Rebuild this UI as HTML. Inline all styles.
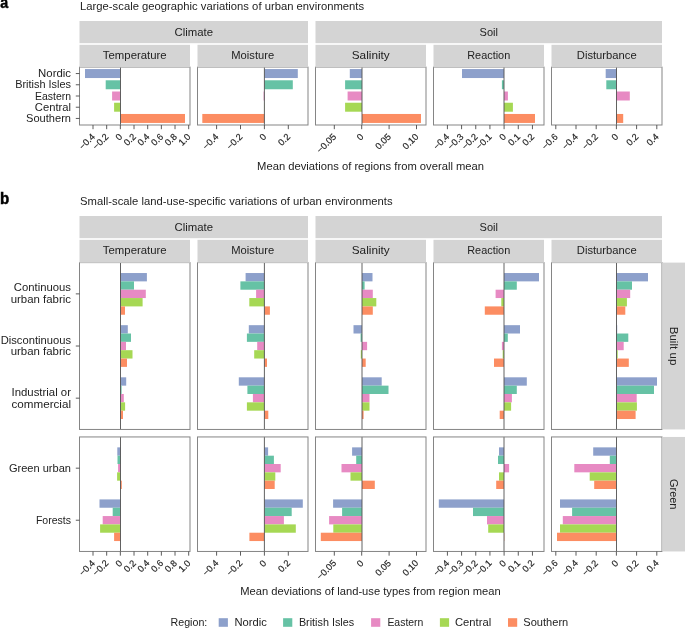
<!DOCTYPE html>
<html><head><meta charset="utf-8"><style>
html,body{margin:0;padding:0;background:#fff;width:685px;height:628px;overflow:hidden;position:relative}
</style></head><body>
<svg width="685" height="628" viewBox="0 0 685 628" style="position:absolute;left:0;top:0;font-family:'Liberation Sans', sans-serif;will-change:transform">
<rect x="0" y="0" width="685" height="628" fill="#ffffff"/>
<text x="0.3" y="7.8" font-size="17" text-anchor="start" fill="#000" font-weight="bold" textLength="7.9" lengthAdjust="spacingAndGlyphs" stroke="#000" stroke-width="0.5">a</text>
<text x="-0.1" y="203.5" font-size="16.5" text-anchor="start" fill="#000" font-weight="bold" textLength="9.2" lengthAdjust="spacingAndGlyphs" stroke="#000" stroke-width="0.5">b</text>
<rect x="79.50" y="67.10" width="110.50" height="57.90" fill="#ffffff"/>
<rect x="85.00" y="69.06" width="35.50" height="8.98" fill="#8DA0CB"/>
<rect x="105.70" y="80.28" width="14.80" height="8.98" fill="#66C2A5"/>
<rect x="112.10" y="91.51" width="8.40" height="8.98" fill="#E78AC3"/>
<rect x="114.10" y="102.73" width="6.40" height="8.98" fill="#A6D854"/>
<rect x="120.50" y="113.96" width="64.50" height="8.98" fill="#FC8D62"/>
<line x1="120.50" y1="67.10" x2="120.50" y2="125.00" stroke="#505050" stroke-width="0.9"/>
<rect x="79.50" y="67.10" width="110.50" height="57.90" fill="none" stroke="#858585" stroke-width="1.0"/>
<rect x="197.50" y="67.10" width="110.50" height="57.90" fill="#ffffff"/>
<rect x="264.40" y="69.06" width="33.40" height="8.98" fill="#8DA0CB"/>
<rect x="264.40" y="80.28" width="28.40" height="8.98" fill="#66C2A5"/>
<rect x="263.60" y="91.51" width="0.80" height="8.98" fill="#E78AC3"/>
<rect x="264.20" y="102.73" width="0.20" height="8.98" fill="#A6D854"/>
<rect x="202.30" y="113.96" width="62.10" height="8.98" fill="#FC8D62"/>
<line x1="264.40" y1="67.10" x2="264.40" y2="125.00" stroke="#505050" stroke-width="0.9"/>
<rect x="197.50" y="67.10" width="110.50" height="57.90" fill="none" stroke="#858585" stroke-width="1.0"/>
<rect x="315.50" y="67.10" width="110.50" height="57.90" fill="#ffffff"/>
<rect x="349.80" y="69.06" width="12.20" height="8.98" fill="#8DA0CB"/>
<rect x="345.10" y="80.28" width="16.90" height="8.98" fill="#66C2A5"/>
<rect x="347.60" y="91.51" width="14.40" height="8.98" fill="#E78AC3"/>
<rect x="345.10" y="102.73" width="16.90" height="8.98" fill="#A6D854"/>
<rect x="362.00" y="113.96" width="59.00" height="8.98" fill="#FC8D62"/>
<line x1="362.00" y1="67.10" x2="362.00" y2="125.00" stroke="#505050" stroke-width="0.9"/>
<rect x="315.50" y="67.10" width="110.50" height="57.90" fill="none" stroke="#858585" stroke-width="1.0"/>
<rect x="433.50" y="67.10" width="110.50" height="57.90" fill="#ffffff"/>
<rect x="462.00" y="69.06" width="42.00" height="8.98" fill="#8DA0CB"/>
<rect x="501.90" y="80.28" width="2.10" height="8.98" fill="#66C2A5"/>
<rect x="504.00" y="91.51" width="3.90" height="8.98" fill="#E78AC3"/>
<rect x="504.00" y="102.73" width="8.90" height="8.98" fill="#A6D854"/>
<rect x="504.00" y="113.96" width="31.00" height="8.98" fill="#FC8D62"/>
<line x1="504.00" y1="67.10" x2="504.00" y2="125.00" stroke="#505050" stroke-width="0.9"/>
<rect x="433.50" y="67.10" width="110.50" height="57.90" fill="none" stroke="#858585" stroke-width="1.0"/>
<rect x="551.50" y="67.10" width="110.50" height="57.90" fill="#ffffff"/>
<rect x="605.70" y="69.06" width="10.80" height="8.98" fill="#8DA0CB"/>
<rect x="606.30" y="80.28" width="10.20" height="8.98" fill="#66C2A5"/>
<rect x="616.50" y="91.51" width="13.30" height="8.98" fill="#E78AC3"/>
<rect x="616.30" y="102.73" width="0.20" height="8.98" fill="#A6D854"/>
<rect x="616.50" y="113.96" width="6.70" height="8.98" fill="#FC8D62"/>
<line x1="616.50" y1="67.10" x2="616.50" y2="125.00" stroke="#505050" stroke-width="0.9"/>
<rect x="551.50" y="67.10" width="110.50" height="57.90" fill="none" stroke="#858585" stroke-width="1.0"/>
<text x="80.1" y="9.5" font-size="10.8" text-anchor="start" fill="#222222" font-weight="normal" textLength="284" lengthAdjust="spacingAndGlyphs">Large-scale geographic variations of urban environments</text>
<rect x="79.50" y="21.00" width="228.50" height="22.20" fill="#D4D4D4"/>
<rect x="315.50" y="21.00" width="346.50" height="22.20" fill="#D4D4D4"/>
<text x="193.75" y="35.8" font-size="10.8" text-anchor="middle" fill="#222222" font-weight="normal" textLength="38.5" lengthAdjust="spacingAndGlyphs">Climate</text>
<text x="488.75" y="35.8" font-size="10.8" text-anchor="middle" fill="#222222" font-weight="normal" textLength="18.4" lengthAdjust="spacingAndGlyphs">Soil</text>
<rect x="79.50" y="44.80" width="110.50" height="22.50" fill="#D4D4D4"/>
<text x="134.75" y="58.6" font-size="10.8" text-anchor="middle" fill="#222222" font-weight="normal" textLength="63.8" lengthAdjust="spacingAndGlyphs">Temperature</text>
<rect x="197.50" y="44.80" width="110.50" height="22.50" fill="#D4D4D4"/>
<text x="252.75" y="58.6" font-size="10.8" text-anchor="middle" fill="#222222" font-weight="normal" textLength="42.9" lengthAdjust="spacingAndGlyphs">Moisture</text>
<rect x="315.50" y="44.80" width="110.50" height="22.50" fill="#D4D4D4"/>
<text x="370.75" y="58.6" font-size="10.8" text-anchor="middle" fill="#222222" font-weight="normal" textLength="38.0" lengthAdjust="spacingAndGlyphs">Salinity</text>
<rect x="433.50" y="44.80" width="110.50" height="22.50" fill="#D4D4D4"/>
<text x="488.75" y="58.6" font-size="10.8" text-anchor="middle" fill="#222222" font-weight="normal" textLength="43.0" lengthAdjust="spacingAndGlyphs">Reaction</text>
<rect x="551.50" y="44.80" width="110.50" height="22.50" fill="#D4D4D4"/>
<text x="606.75" y="58.6" font-size="10.8" text-anchor="middle" fill="#222222" font-weight="normal" textLength="59.9" lengthAdjust="spacingAndGlyphs">Disturbance</text>
<line x1="75.80" y1="73.55" x2="79.60" y2="73.55" stroke="#4A4A4A" stroke-width="0.9"/>
<text x="71" y="77.25" font-size="10.8" text-anchor="end" fill="#222222" font-weight="normal" textLength="32.9" lengthAdjust="spacingAndGlyphs">Nordic</text>
<line x1="75.80" y1="84.77" x2="79.60" y2="84.77" stroke="#4A4A4A" stroke-width="0.9"/>
<text x="71" y="88.475" font-size="10.8" text-anchor="end" fill="#222222" font-weight="normal" textLength="55.8" lengthAdjust="spacingAndGlyphs">British Isles</text>
<line x1="75.80" y1="96.00" x2="79.60" y2="96.00" stroke="#4A4A4A" stroke-width="0.9"/>
<text x="71" y="99.7" font-size="10.8" text-anchor="end" fill="#222222" font-weight="normal" textLength="36.0" lengthAdjust="spacingAndGlyphs">Eastern</text>
<line x1="75.80" y1="107.22" x2="79.60" y2="107.22" stroke="#4A4A4A" stroke-width="0.9"/>
<text x="71" y="110.925" font-size="10.8" text-anchor="end" fill="#222222" font-weight="normal" textLength="36.2" lengthAdjust="spacingAndGlyphs">Central</text>
<line x1="75.80" y1="118.45" x2="79.60" y2="118.45" stroke="#4A4A4A" stroke-width="0.9"/>
<text x="71" y="122.14999999999999" font-size="10.8" text-anchor="end" fill="#222222" font-weight="normal" textLength="45.0" lengthAdjust="spacingAndGlyphs">Southern</text>
<line x1="93.01" y1="125.00" x2="93.01" y2="129.20" stroke="#4A4A4A" stroke-width="0.9"/>
<text x="95.51" y="137.30" font-size="9.2" text-anchor="end" fill="#222222" stroke="#222222" stroke-width="0.18" transform="rotate(-45 95.51 137.30)">−0.4</text>
<line x1="106.68" y1="125.00" x2="106.68" y2="129.20" stroke="#4A4A4A" stroke-width="0.9"/>
<text x="109.18" y="137.30" font-size="9.2" text-anchor="end" fill="#222222" stroke="#222222" stroke-width="0.18" transform="rotate(-45 109.18 137.30)">−0.2</text>
<line x1="120.35" y1="125.00" x2="120.35" y2="129.20" stroke="#4A4A4A" stroke-width="0.9"/>
<text x="122.85" y="137.30" font-size="9.2" text-anchor="end" fill="#222222" stroke="#222222" stroke-width="0.18" transform="rotate(-45 122.85 137.30)">0</text>
<line x1="134.02" y1="125.00" x2="134.02" y2="129.20" stroke="#4A4A4A" stroke-width="0.9"/>
<text x="136.52" y="137.30" font-size="9.2" text-anchor="end" fill="#222222" stroke="#222222" stroke-width="0.18" transform="rotate(-45 136.52 137.30)">0.2</text>
<line x1="147.69" y1="125.00" x2="147.69" y2="129.20" stroke="#4A4A4A" stroke-width="0.9"/>
<text x="150.19" y="137.30" font-size="9.2" text-anchor="end" fill="#222222" stroke="#222222" stroke-width="0.18" transform="rotate(-45 150.19 137.30)">0.4</text>
<line x1="161.36" y1="125.00" x2="161.36" y2="129.20" stroke="#4A4A4A" stroke-width="0.9"/>
<text x="163.86" y="137.30" font-size="9.2" text-anchor="end" fill="#222222" stroke="#222222" stroke-width="0.18" transform="rotate(-45 163.86 137.30)">0.6</text>
<line x1="175.03" y1="125.00" x2="175.03" y2="129.20" stroke="#4A4A4A" stroke-width="0.9"/>
<text x="177.53" y="137.30" font-size="9.2" text-anchor="end" fill="#222222" stroke="#222222" stroke-width="0.18" transform="rotate(-45 177.53 137.30)">0.8</text>
<line x1="188.70" y1="125.00" x2="188.70" y2="129.20" stroke="#4A4A4A" stroke-width="0.9"/>
<text x="191.20" y="137.30" font-size="9.2" text-anchor="end" fill="#222222" stroke="#222222" stroke-width="0.18" transform="rotate(-45 191.20 137.30)">1.0</text>
<line x1="216.60" y1="125.00" x2="216.60" y2="129.20" stroke="#4A4A4A" stroke-width="0.9"/>
<text x="219.10" y="137.30" font-size="9.2" text-anchor="end" fill="#222222" stroke="#222222" stroke-width="0.18" transform="rotate(-45 219.10 137.30)">−0.4</text>
<line x1="240.50" y1="125.00" x2="240.50" y2="129.20" stroke="#4A4A4A" stroke-width="0.9"/>
<text x="243.00" y="137.30" font-size="9.2" text-anchor="end" fill="#222222" stroke="#222222" stroke-width="0.18" transform="rotate(-45 243.00 137.30)">−0.2</text>
<line x1="264.40" y1="125.00" x2="264.40" y2="129.20" stroke="#4A4A4A" stroke-width="0.9"/>
<text x="266.90" y="137.30" font-size="9.2" text-anchor="end" fill="#222222" stroke="#222222" stroke-width="0.18" transform="rotate(-45 266.90 137.30)">0</text>
<line x1="288.30" y1="125.00" x2="288.30" y2="129.20" stroke="#4A4A4A" stroke-width="0.9"/>
<text x="290.80" y="137.30" font-size="9.2" text-anchor="end" fill="#222222" stroke="#222222" stroke-width="0.18" transform="rotate(-45 290.80 137.30)">0.2</text>
<line x1="334.30" y1="125.00" x2="334.30" y2="129.20" stroke="#4A4A4A" stroke-width="0.9"/>
<text x="336.80" y="137.30" font-size="9.2" text-anchor="end" fill="#222222" stroke="#222222" stroke-width="0.18" transform="rotate(-45 336.80 137.30)">−0.05</text>
<line x1="361.70" y1="125.00" x2="361.70" y2="129.20" stroke="#4A4A4A" stroke-width="0.9"/>
<text x="364.20" y="137.30" font-size="9.2" text-anchor="end" fill="#222222" stroke="#222222" stroke-width="0.18" transform="rotate(-45 364.20 137.30)">0</text>
<line x1="389.10" y1="125.00" x2="389.10" y2="129.20" stroke="#4A4A4A" stroke-width="0.9"/>
<text x="391.60" y="137.30" font-size="9.2" text-anchor="end" fill="#222222" stroke="#222222" stroke-width="0.18" transform="rotate(-45 391.60 137.30)">0.05</text>
<line x1="416.50" y1="125.00" x2="416.50" y2="129.20" stroke="#4A4A4A" stroke-width="0.9"/>
<text x="419.00" y="137.30" font-size="9.2" text-anchor="end" fill="#222222" stroke="#222222" stroke-width="0.18" transform="rotate(-45 419.00 137.30)">0.10</text>
<line x1="447.42" y1="125.00" x2="447.42" y2="129.20" stroke="#4A4A4A" stroke-width="0.9"/>
<text x="449.92" y="137.30" font-size="9.2" text-anchor="end" fill="#222222" stroke="#222222" stroke-width="0.18" transform="rotate(-45 449.92 137.30)">−0.4</text>
<line x1="461.59" y1="125.00" x2="461.59" y2="129.20" stroke="#4A4A4A" stroke-width="0.9"/>
<text x="464.09" y="137.30" font-size="9.2" text-anchor="end" fill="#222222" stroke="#222222" stroke-width="0.18" transform="rotate(-45 464.09 137.30)">−0.3</text>
<line x1="475.76" y1="125.00" x2="475.76" y2="129.20" stroke="#4A4A4A" stroke-width="0.9"/>
<text x="478.26" y="137.30" font-size="9.2" text-anchor="end" fill="#222222" stroke="#222222" stroke-width="0.18" transform="rotate(-45 478.26 137.30)">−0.2</text>
<line x1="489.93" y1="125.00" x2="489.93" y2="129.20" stroke="#4A4A4A" stroke-width="0.9"/>
<text x="492.43" y="137.30" font-size="9.2" text-anchor="end" fill="#222222" stroke="#222222" stroke-width="0.18" transform="rotate(-45 492.43 137.30)">−0.1</text>
<line x1="504.10" y1="125.00" x2="504.10" y2="129.20" stroke="#4A4A4A" stroke-width="0.9"/>
<text x="506.60" y="137.30" font-size="9.2" text-anchor="end" fill="#222222" stroke="#222222" stroke-width="0.18" transform="rotate(-45 506.60 137.30)">0</text>
<line x1="518.27" y1="125.00" x2="518.27" y2="129.20" stroke="#4A4A4A" stroke-width="0.9"/>
<text x="520.77" y="137.30" font-size="9.2" text-anchor="end" fill="#222222" stroke="#222222" stroke-width="0.18" transform="rotate(-45 520.77 137.30)">0.1</text>
<line x1="532.44" y1="125.00" x2="532.44" y2="129.20" stroke="#4A4A4A" stroke-width="0.9"/>
<text x="534.94" y="137.30" font-size="9.2" text-anchor="end" fill="#222222" stroke="#222222" stroke-width="0.18" transform="rotate(-45 534.94 137.30)">0.2</text>
<line x1="555.80" y1="125.00" x2="555.80" y2="129.20" stroke="#4A4A4A" stroke-width="0.9"/>
<text x="558.30" y="137.30" font-size="9.2" text-anchor="end" fill="#222222" stroke="#222222" stroke-width="0.18" transform="rotate(-45 558.30 137.30)">−0.6</text>
<line x1="576.00" y1="125.00" x2="576.00" y2="129.20" stroke="#4A4A4A" stroke-width="0.9"/>
<text x="578.50" y="137.30" font-size="9.2" text-anchor="end" fill="#222222" stroke="#222222" stroke-width="0.18" transform="rotate(-45 578.50 137.30)">−0.4</text>
<line x1="596.20" y1="125.00" x2="596.20" y2="129.20" stroke="#4A4A4A" stroke-width="0.9"/>
<text x="598.70" y="137.30" font-size="9.2" text-anchor="end" fill="#222222" stroke="#222222" stroke-width="0.18" transform="rotate(-45 598.70 137.30)">−0.2</text>
<line x1="616.40" y1="125.00" x2="616.40" y2="129.20" stroke="#4A4A4A" stroke-width="0.9"/>
<text x="618.90" y="137.30" font-size="9.2" text-anchor="end" fill="#222222" stroke="#222222" stroke-width="0.18" transform="rotate(-45 618.90 137.30)">0</text>
<line x1="636.60" y1="125.00" x2="636.60" y2="129.20" stroke="#4A4A4A" stroke-width="0.9"/>
<text x="639.10" y="137.30" font-size="9.2" text-anchor="end" fill="#222222" stroke="#222222" stroke-width="0.18" transform="rotate(-45 639.10 137.30)">0.2</text>
<line x1="656.80" y1="125.00" x2="656.80" y2="129.20" stroke="#4A4A4A" stroke-width="0.9"/>
<text x="659.30" y="137.30" font-size="9.2" text-anchor="end" fill="#222222" stroke="#222222" stroke-width="0.18" transform="rotate(-45 659.30 137.30)">0.4</text>
<text x="370.6" y="169.6" font-size="10.8" text-anchor="middle" fill="#222222" font-weight="normal" textLength="227" lengthAdjust="spacingAndGlyphs">Mean deviations of regions from overall mean</text>
<rect x="79.50" y="262.60" width="110.50" height="166.85" fill="#ffffff"/>
<rect x="120.50" y="273.03" width="26.40" height="8.34" fill="#8DA0CB"/>
<rect x="120.50" y="281.37" width="13.50" height="8.34" fill="#66C2A5"/>
<rect x="120.50" y="289.71" width="25.30" height="8.34" fill="#E78AC3"/>
<rect x="120.50" y="298.06" width="22.10" height="8.34" fill="#A6D854"/>
<rect x="120.50" y="306.40" width="4.50" height="8.34" fill="#FC8D62"/>
<rect x="120.50" y="325.17" width="7.30" height="8.34" fill="#8DA0CB"/>
<rect x="120.50" y="333.51" width="10.50" height="8.34" fill="#66C2A5"/>
<rect x="120.50" y="341.85" width="5.50" height="8.34" fill="#E78AC3"/>
<rect x="120.50" y="350.20" width="12.00" height="8.34" fill="#A6D854"/>
<rect x="120.50" y="358.54" width="6.50" height="8.34" fill="#FC8D62"/>
<rect x="120.50" y="377.31" width="5.70" height="8.34" fill="#8DA0CB"/>
<rect x="120.50" y="385.65" width="1.10" height="8.34" fill="#66C2A5"/>
<rect x="120.50" y="393.99" width="3.30" height="8.34" fill="#E78AC3"/>
<rect x="120.50" y="402.34" width="4.60" height="8.34" fill="#A6D854"/>
<rect x="120.50" y="410.68" width="2.50" height="8.34" fill="#FC8D62"/>
<line x1="120.50" y1="262.60" x2="120.50" y2="429.45" stroke="#505050" stroke-width="0.9"/>
<rect x="79.50" y="262.60" width="110.50" height="166.85" fill="none" stroke="#858585" stroke-width="1.0"/>
<rect x="79.50" y="436.95" width="110.50" height="114.51" fill="#ffffff"/>
<rect x="117.30" y="447.36" width="3.20" height="8.33" fill="#8DA0CB"/>
<rect x="117.50" y="455.69" width="3.00" height="8.33" fill="#66C2A5"/>
<rect x="118.10" y="464.01" width="2.40" height="8.33" fill="#E78AC3"/>
<rect x="117.10" y="472.34" width="3.40" height="8.33" fill="#A6D854"/>
<rect x="120.50" y="480.67" width="1.30" height="8.33" fill="#FC8D62"/>
<rect x="99.50" y="499.41" width="21.00" height="8.33" fill="#8DA0CB"/>
<rect x="112.70" y="507.74" width="7.80" height="8.33" fill="#66C2A5"/>
<rect x="102.70" y="516.06" width="17.80" height="8.33" fill="#E78AC3"/>
<rect x="100.10" y="524.39" width="20.40" height="8.33" fill="#A6D854"/>
<rect x="114.10" y="532.72" width="6.40" height="8.33" fill="#FC8D62"/>
<line x1="120.50" y1="436.95" x2="120.50" y2="551.46" stroke="#505050" stroke-width="0.9"/>
<rect x="79.50" y="436.95" width="110.50" height="114.51" fill="none" stroke="#858585" stroke-width="1.0"/>
<rect x="197.50" y="262.60" width="110.50" height="166.85" fill="#ffffff"/>
<rect x="245.60" y="273.03" width="18.80" height="8.34" fill="#8DA0CB"/>
<rect x="240.40" y="281.37" width="24.00" height="8.34" fill="#66C2A5"/>
<rect x="256.10" y="289.71" width="8.30" height="8.34" fill="#E78AC3"/>
<rect x="249.30" y="298.06" width="15.10" height="8.34" fill="#A6D854"/>
<rect x="264.40" y="306.40" width="5.50" height="8.34" fill="#FC8D62"/>
<rect x="248.80" y="325.17" width="15.60" height="8.34" fill="#8DA0CB"/>
<rect x="246.90" y="333.51" width="17.50" height="8.34" fill="#66C2A5"/>
<rect x="257.20" y="341.85" width="7.20" height="8.34" fill="#E78AC3"/>
<rect x="254.20" y="350.20" width="10.20" height="8.34" fill="#A6D854"/>
<rect x="264.40" y="358.54" width="2.60" height="8.34" fill="#FC8D62"/>
<rect x="238.80" y="377.31" width="25.60" height="8.34" fill="#8DA0CB"/>
<rect x="247.40" y="385.65" width="17.00" height="8.34" fill="#66C2A5"/>
<rect x="252.90" y="393.99" width="11.50" height="8.34" fill="#E78AC3"/>
<rect x="246.90" y="402.34" width="17.50" height="8.34" fill="#A6D854"/>
<rect x="264.40" y="410.68" width="3.90" height="8.34" fill="#FC8D62"/>
<line x1="264.40" y1="262.60" x2="264.40" y2="429.45" stroke="#505050" stroke-width="0.9"/>
<rect x="197.50" y="262.60" width="110.50" height="166.85" fill="none" stroke="#858585" stroke-width="1.0"/>
<rect x="197.50" y="436.95" width="110.50" height="114.51" fill="#ffffff"/>
<rect x="264.40" y="447.36" width="3.70" height="8.33" fill="#8DA0CB"/>
<rect x="264.40" y="455.69" width="9.50" height="8.33" fill="#66C2A5"/>
<rect x="264.40" y="464.01" width="16.30" height="8.33" fill="#E78AC3"/>
<rect x="264.40" y="472.34" width="10.90" height="8.33" fill="#A6D854"/>
<rect x="264.40" y="480.67" width="10.30" height="8.33" fill="#FC8D62"/>
<rect x="264.40" y="499.41" width="38.40" height="8.33" fill="#8DA0CB"/>
<rect x="264.40" y="507.74" width="27.30" height="8.33" fill="#66C2A5"/>
<rect x="264.40" y="516.06" width="19.50" height="8.33" fill="#E78AC3"/>
<rect x="264.40" y="524.39" width="31.40" height="8.33" fill="#A6D854"/>
<rect x="249.40" y="532.72" width="15.00" height="8.33" fill="#FC8D62"/>
<line x1="264.40" y1="436.95" x2="264.40" y2="551.46" stroke="#505050" stroke-width="0.9"/>
<rect x="197.50" y="436.95" width="110.50" height="114.51" fill="none" stroke="#858585" stroke-width="1.0"/>
<rect x="315.50" y="262.60" width="110.50" height="166.85" fill="#ffffff"/>
<rect x="362.00" y="273.03" width="10.50" height="8.34" fill="#8DA0CB"/>
<rect x="362.00" y="281.37" width="2.60" height="8.34" fill="#66C2A5"/>
<rect x="362.00" y="289.71" width="10.80" height="8.34" fill="#E78AC3"/>
<rect x="362.00" y="298.06" width="14.30" height="8.34" fill="#A6D854"/>
<rect x="362.00" y="306.40" width="10.80" height="8.34" fill="#FC8D62"/>
<rect x="353.50" y="325.17" width="8.50" height="8.34" fill="#8DA0CB"/>
<rect x="360.60" y="333.51" width="1.40" height="8.34" fill="#66C2A5"/>
<rect x="362.00" y="341.85" width="5.10" height="8.34" fill="#E78AC3"/>
<rect x="360.80" y="350.20" width="1.20" height="8.34" fill="#A6D854"/>
<rect x="362.00" y="358.54" width="3.70" height="8.34" fill="#FC8D62"/>
<rect x="362.00" y="377.31" width="19.70" height="8.34" fill="#8DA0CB"/>
<rect x="362.00" y="385.65" width="26.50" height="8.34" fill="#66C2A5"/>
<rect x="362.00" y="393.99" width="7.50" height="8.34" fill="#E78AC3"/>
<rect x="362.00" y="402.34" width="7.50" height="8.34" fill="#A6D854"/>
<rect x="362.00" y="410.68" width="1.60" height="8.34" fill="#FC8D62"/>
<line x1="362.00" y1="262.60" x2="362.00" y2="429.45" stroke="#505050" stroke-width="0.9"/>
<rect x="315.50" y="262.60" width="110.50" height="166.85" fill="none" stroke="#858585" stroke-width="1.0"/>
<rect x="315.50" y="436.95" width="110.50" height="114.51" fill="#ffffff"/>
<rect x="352.10" y="447.36" width="9.90" height="8.33" fill="#8DA0CB"/>
<rect x="356.20" y="455.69" width="5.80" height="8.33" fill="#66C2A5"/>
<rect x="341.50" y="464.01" width="20.50" height="8.33" fill="#E78AC3"/>
<rect x="350.50" y="472.34" width="11.50" height="8.33" fill="#A6D854"/>
<rect x="362.00" y="480.67" width="12.80" height="8.33" fill="#FC8D62"/>
<rect x="333.10" y="499.41" width="28.90" height="8.33" fill="#8DA0CB"/>
<rect x="342.10" y="507.74" width="19.90" height="8.33" fill="#66C2A5"/>
<rect x="329.10" y="516.06" width="32.90" height="8.33" fill="#E78AC3"/>
<rect x="333.30" y="524.39" width="28.70" height="8.33" fill="#A6D854"/>
<rect x="320.80" y="532.72" width="41.20" height="8.33" fill="#FC8D62"/>
<line x1="362.00" y1="436.95" x2="362.00" y2="551.46" stroke="#505050" stroke-width="0.9"/>
<rect x="315.50" y="436.95" width="110.50" height="114.51" fill="none" stroke="#858585" stroke-width="1.0"/>
<rect x="433.50" y="262.60" width="110.50" height="166.85" fill="#ffffff"/>
<rect x="504.00" y="273.03" width="35.00" height="8.34" fill="#8DA0CB"/>
<rect x="504.00" y="281.37" width="12.80" height="8.34" fill="#66C2A5"/>
<rect x="495.60" y="289.71" width="8.40" height="8.34" fill="#E78AC3"/>
<rect x="501.30" y="298.06" width="2.70" height="8.34" fill="#A6D854"/>
<rect x="484.80" y="306.40" width="19.20" height="8.34" fill="#FC8D62"/>
<rect x="504.00" y="325.17" width="16.00" height="8.34" fill="#8DA0CB"/>
<rect x="504.00" y="333.51" width="3.80" height="8.34" fill="#66C2A5"/>
<rect x="501.90" y="341.85" width="2.10" height="8.34" fill="#E78AC3"/>
<rect x="502.70" y="350.20" width="1.30" height="8.34" fill="#A6D854"/>
<rect x="494.00" y="358.54" width="10.00" height="8.34" fill="#FC8D62"/>
<rect x="504.00" y="377.31" width="22.80" height="8.34" fill="#8DA0CB"/>
<rect x="504.00" y="385.65" width="12.80" height="8.34" fill="#66C2A5"/>
<rect x="504.00" y="393.99" width="7.90" height="8.34" fill="#E78AC3"/>
<rect x="504.00" y="402.34" width="7.10" height="8.34" fill="#A6D854"/>
<rect x="499.70" y="410.68" width="4.30" height="8.34" fill="#FC8D62"/>
<line x1="504.00" y1="262.60" x2="504.00" y2="429.45" stroke="#505050" stroke-width="0.9"/>
<rect x="433.50" y="262.60" width="110.50" height="166.85" fill="none" stroke="#858585" stroke-width="1.0"/>
<rect x="433.50" y="436.95" width="110.50" height="114.51" fill="#ffffff"/>
<rect x="499.00" y="447.36" width="5.00" height="8.33" fill="#8DA0CB"/>
<rect x="498.00" y="455.69" width="6.00" height="8.33" fill="#66C2A5"/>
<rect x="504.00" y="464.01" width="5.10" height="8.33" fill="#E78AC3"/>
<rect x="499.00" y="472.34" width="5.00" height="8.33" fill="#A6D854"/>
<rect x="496.20" y="480.67" width="7.80" height="8.33" fill="#FC8D62"/>
<rect x="438.80" y="499.41" width="65.20" height="8.33" fill="#8DA0CB"/>
<rect x="473.00" y="507.74" width="31.00" height="8.33" fill="#66C2A5"/>
<rect x="487.00" y="516.06" width="17.00" height="8.33" fill="#E78AC3"/>
<rect x="488.20" y="524.39" width="15.80" height="8.33" fill="#A6D854"/>
<rect x="504.00" y="532.72" width="0.30" height="8.33" fill="#FC8D62"/>
<line x1="504.00" y1="436.95" x2="504.00" y2="551.46" stroke="#505050" stroke-width="0.9"/>
<rect x="433.50" y="436.95" width="110.50" height="114.51" fill="none" stroke="#858585" stroke-width="1.0"/>
<rect x="551.50" y="262.60" width="110.50" height="166.85" fill="#ffffff"/>
<rect x="616.50" y="273.03" width="31.50" height="8.34" fill="#8DA0CB"/>
<rect x="616.50" y="281.37" width="15.50" height="8.34" fill="#66C2A5"/>
<rect x="616.50" y="289.71" width="13.70" height="8.34" fill="#E78AC3"/>
<rect x="616.50" y="298.06" width="10.40" height="8.34" fill="#A6D854"/>
<rect x="616.50" y="306.40" width="8.80" height="8.34" fill="#FC8D62"/>
<rect x="616.50" y="325.17" width="0.70" height="8.34" fill="#8DA0CB"/>
<rect x="616.50" y="333.51" width="11.80" height="8.34" fill="#66C2A5"/>
<rect x="616.50" y="341.85" width="7.20" height="8.34" fill="#E78AC3"/>
<rect x="616.50" y="350.20" width="1.20" height="8.34" fill="#A6D854"/>
<rect x="616.50" y="358.54" width="12.30" height="8.34" fill="#FC8D62"/>
<rect x="616.50" y="377.31" width="40.50" height="8.34" fill="#8DA0CB"/>
<rect x="616.50" y="385.65" width="37.50" height="8.34" fill="#66C2A5"/>
<rect x="616.50" y="393.99" width="20.20" height="8.34" fill="#E78AC3"/>
<rect x="616.50" y="402.34" width="20.40" height="8.34" fill="#A6D854"/>
<rect x="616.50" y="410.68" width="19.10" height="8.34" fill="#FC8D62"/>
<line x1="616.50" y1="262.60" x2="616.50" y2="429.45" stroke="#505050" stroke-width="0.9"/>
<rect x="551.50" y="262.60" width="110.50" height="166.85" fill="none" stroke="#858585" stroke-width="1.0"/>
<rect x="551.50" y="436.95" width="110.50" height="114.51" fill="#ffffff"/>
<rect x="593.20" y="447.36" width="23.30" height="8.33" fill="#8DA0CB"/>
<rect x="609.80" y="455.69" width="6.70" height="8.33" fill="#66C2A5"/>
<rect x="574.30" y="464.01" width="42.20" height="8.33" fill="#E78AC3"/>
<rect x="589.70" y="472.34" width="26.80" height="8.33" fill="#A6D854"/>
<rect x="594.20" y="480.67" width="22.30" height="8.33" fill="#FC8D62"/>
<rect x="560.00" y="499.41" width="56.50" height="8.33" fill="#8DA0CB"/>
<rect x="572.10" y="507.74" width="44.40" height="8.33" fill="#66C2A5"/>
<rect x="562.80" y="516.06" width="53.70" height="8.33" fill="#E78AC3"/>
<rect x="560.00" y="524.39" width="56.50" height="8.33" fill="#A6D854"/>
<rect x="557.00" y="532.72" width="59.50" height="8.33" fill="#FC8D62"/>
<line x1="616.50" y1="436.95" x2="616.50" y2="551.46" stroke="#505050" stroke-width="0.9"/>
<rect x="551.50" y="436.95" width="110.50" height="114.51" fill="none" stroke="#858585" stroke-width="1.0"/>
<text x="80.1" y="204.5" font-size="10.8" text-anchor="start" fill="#222222" font-weight="normal" textLength="312.5" lengthAdjust="spacingAndGlyphs">Small-scale land-use-specific variations of urban environments</text>
<rect x="79.50" y="216.00" width="228.50" height="22.20" fill="#D4D4D4"/>
<rect x="315.50" y="216.00" width="346.50" height="22.20" fill="#D4D4D4"/>
<text x="193.75" y="230.8" font-size="10.8" text-anchor="middle" fill="#222222" font-weight="normal" textLength="38.5" lengthAdjust="spacingAndGlyphs">Climate</text>
<text x="488.75" y="230.8" font-size="10.8" text-anchor="middle" fill="#222222" font-weight="normal" textLength="18.4" lengthAdjust="spacingAndGlyphs">Soil</text>
<rect x="79.50" y="239.80" width="110.50" height="23.00" fill="#D4D4D4"/>
<text x="134.75" y="253.6" font-size="10.8" text-anchor="middle" fill="#222222" font-weight="normal" textLength="63.8" lengthAdjust="spacingAndGlyphs">Temperature</text>
<rect x="197.50" y="239.80" width="110.50" height="23.00" fill="#D4D4D4"/>
<text x="252.75" y="253.6" font-size="10.8" text-anchor="middle" fill="#222222" font-weight="normal" textLength="42.9" lengthAdjust="spacingAndGlyphs">Moisture</text>
<rect x="315.50" y="239.80" width="110.50" height="23.00" fill="#D4D4D4"/>
<text x="370.75" y="253.6" font-size="10.8" text-anchor="middle" fill="#222222" font-weight="normal" textLength="38.0" lengthAdjust="spacingAndGlyphs">Salinity</text>
<rect x="433.50" y="239.80" width="110.50" height="23.00" fill="#D4D4D4"/>
<text x="488.75" y="253.6" font-size="10.8" text-anchor="middle" fill="#222222" font-weight="normal" textLength="43.0" lengthAdjust="spacingAndGlyphs">Reaction</text>
<rect x="551.50" y="239.80" width="110.50" height="23.00" fill="#D4D4D4"/>
<text x="606.75" y="253.6" font-size="10.8" text-anchor="middle" fill="#222222" font-weight="normal" textLength="59.9" lengthAdjust="spacingAndGlyphs">Disturbance</text>
<rect x="662.20" y="262.60" width="22.80" height="166.85" fill="#D4D4D4"/>
<rect x="662.20" y="436.95" width="22.80" height="114.51" fill="#D4D4D4"/>
<text x="673.80" y="346.02" font-size="10.8" text-anchor="middle" fill="#222222" textLength="38.6" lengthAdjust="spacingAndGlyphs" transform="rotate(90 673.80 346.02) translate(0 3.7)">Built up</text>
<text x="673.80" y="494.20" font-size="10.8" text-anchor="middle" fill="#222222" textLength="30.5" lengthAdjust="spacingAndGlyphs" transform="rotate(90 673.80 494.20) translate(0 3.7)">Green</text>
<line x1="75.80" y1="293.88" x2="79.60" y2="293.88" stroke="#4A4A4A" stroke-width="0.9"/>
<text x="71" y="291.384" font-size="10.8" text-anchor="end" fill="#222222" font-weight="normal" textLength="57.2" lengthAdjust="spacingAndGlyphs">Continuous</text>
<text x="71" y="303.284" font-size="10.8" text-anchor="end" fill="#222222" font-weight="normal" textLength="60.3" lengthAdjust="spacingAndGlyphs">urban fabric</text>
<line x1="75.80" y1="346.02" x2="79.60" y2="346.02" stroke="#4A4A4A" stroke-width="0.9"/>
<text x="71" y="343.524" font-size="10.8" text-anchor="end" fill="#222222" font-weight="normal" textLength="70.3" lengthAdjust="spacingAndGlyphs">Discontinuous</text>
<text x="71" y="355.424" font-size="10.8" text-anchor="end" fill="#222222" font-weight="normal" textLength="60.3" lengthAdjust="spacingAndGlyphs">urban fabric</text>
<line x1="75.80" y1="398.16" x2="79.60" y2="398.16" stroke="#4A4A4A" stroke-width="0.9"/>
<text x="71" y="395.664" font-size="10.8" text-anchor="end" fill="#222222" font-weight="normal" textLength="59.5" lengthAdjust="spacingAndGlyphs">Industrial or</text>
<text x="71" y="407.56399999999996" font-size="10.8" text-anchor="end" fill="#222222" font-weight="normal" textLength="59.5" lengthAdjust="spacingAndGlyphs">commercial</text>
<line x1="75.80" y1="468.18" x2="79.60" y2="468.18" stroke="#4A4A4A" stroke-width="0.9"/>
<text x="71" y="471.87800000000004" font-size="10.8" text-anchor="end" fill="#222222" font-weight="normal" textLength="62.1" lengthAdjust="spacingAndGlyphs">Green urban</text>
<line x1="75.80" y1="520.23" x2="79.60" y2="520.23" stroke="#4A4A4A" stroke-width="0.9"/>
<text x="71" y="523.9280000000001" font-size="10.8" text-anchor="end" fill="#222222" font-weight="normal" textLength="35.1" lengthAdjust="spacingAndGlyphs">Forests</text>
<line x1="93.01" y1="551.46" x2="93.01" y2="555.66" stroke="#4A4A4A" stroke-width="0.9"/>
<text x="95.51" y="563.76" font-size="9.2" text-anchor="end" fill="#222222" stroke="#222222" stroke-width="0.18" transform="rotate(-45 95.51 563.76)">−0.4</text>
<line x1="106.68" y1="551.46" x2="106.68" y2="555.66" stroke="#4A4A4A" stroke-width="0.9"/>
<text x="109.18" y="563.76" font-size="9.2" text-anchor="end" fill="#222222" stroke="#222222" stroke-width="0.18" transform="rotate(-45 109.18 563.76)">−0.2</text>
<line x1="120.35" y1="551.46" x2="120.35" y2="555.66" stroke="#4A4A4A" stroke-width="0.9"/>
<text x="122.85" y="563.76" font-size="9.2" text-anchor="end" fill="#222222" stroke="#222222" stroke-width="0.18" transform="rotate(-45 122.85 563.76)">0</text>
<line x1="134.02" y1="551.46" x2="134.02" y2="555.66" stroke="#4A4A4A" stroke-width="0.9"/>
<text x="136.52" y="563.76" font-size="9.2" text-anchor="end" fill="#222222" stroke="#222222" stroke-width="0.18" transform="rotate(-45 136.52 563.76)">0.2</text>
<line x1="147.69" y1="551.46" x2="147.69" y2="555.66" stroke="#4A4A4A" stroke-width="0.9"/>
<text x="150.19" y="563.76" font-size="9.2" text-anchor="end" fill="#222222" stroke="#222222" stroke-width="0.18" transform="rotate(-45 150.19 563.76)">0.4</text>
<line x1="161.36" y1="551.46" x2="161.36" y2="555.66" stroke="#4A4A4A" stroke-width="0.9"/>
<text x="163.86" y="563.76" font-size="9.2" text-anchor="end" fill="#222222" stroke="#222222" stroke-width="0.18" transform="rotate(-45 163.86 563.76)">0.6</text>
<line x1="175.03" y1="551.46" x2="175.03" y2="555.66" stroke="#4A4A4A" stroke-width="0.9"/>
<text x="177.53" y="563.76" font-size="9.2" text-anchor="end" fill="#222222" stroke="#222222" stroke-width="0.18" transform="rotate(-45 177.53 563.76)">0.8</text>
<line x1="188.70" y1="551.46" x2="188.70" y2="555.66" stroke="#4A4A4A" stroke-width="0.9"/>
<text x="191.20" y="563.76" font-size="9.2" text-anchor="end" fill="#222222" stroke="#222222" stroke-width="0.18" transform="rotate(-45 191.20 563.76)">1.0</text>
<line x1="216.60" y1="551.46" x2="216.60" y2="555.66" stroke="#4A4A4A" stroke-width="0.9"/>
<text x="219.10" y="563.76" font-size="9.2" text-anchor="end" fill="#222222" stroke="#222222" stroke-width="0.18" transform="rotate(-45 219.10 563.76)">−0.4</text>
<line x1="240.50" y1="551.46" x2="240.50" y2="555.66" stroke="#4A4A4A" stroke-width="0.9"/>
<text x="243.00" y="563.76" font-size="9.2" text-anchor="end" fill="#222222" stroke="#222222" stroke-width="0.18" transform="rotate(-45 243.00 563.76)">−0.2</text>
<line x1="264.40" y1="551.46" x2="264.40" y2="555.66" stroke="#4A4A4A" stroke-width="0.9"/>
<text x="266.90" y="563.76" font-size="9.2" text-anchor="end" fill="#222222" stroke="#222222" stroke-width="0.18" transform="rotate(-45 266.90 563.76)">0</text>
<line x1="288.30" y1="551.46" x2="288.30" y2="555.66" stroke="#4A4A4A" stroke-width="0.9"/>
<text x="290.80" y="563.76" font-size="9.2" text-anchor="end" fill="#222222" stroke="#222222" stroke-width="0.18" transform="rotate(-45 290.80 563.76)">0.2</text>
<line x1="334.30" y1="551.46" x2="334.30" y2="555.66" stroke="#4A4A4A" stroke-width="0.9"/>
<text x="336.80" y="563.76" font-size="9.2" text-anchor="end" fill="#222222" stroke="#222222" stroke-width="0.18" transform="rotate(-45 336.80 563.76)">−0.05</text>
<line x1="361.70" y1="551.46" x2="361.70" y2="555.66" stroke="#4A4A4A" stroke-width="0.9"/>
<text x="364.20" y="563.76" font-size="9.2" text-anchor="end" fill="#222222" stroke="#222222" stroke-width="0.18" transform="rotate(-45 364.20 563.76)">0</text>
<line x1="389.10" y1="551.46" x2="389.10" y2="555.66" stroke="#4A4A4A" stroke-width="0.9"/>
<text x="391.60" y="563.76" font-size="9.2" text-anchor="end" fill="#222222" stroke="#222222" stroke-width="0.18" transform="rotate(-45 391.60 563.76)">0.05</text>
<line x1="416.50" y1="551.46" x2="416.50" y2="555.66" stroke="#4A4A4A" stroke-width="0.9"/>
<text x="419.00" y="563.76" font-size="9.2" text-anchor="end" fill="#222222" stroke="#222222" stroke-width="0.18" transform="rotate(-45 419.00 563.76)">0.10</text>
<line x1="447.42" y1="551.46" x2="447.42" y2="555.66" stroke="#4A4A4A" stroke-width="0.9"/>
<text x="449.92" y="563.76" font-size="9.2" text-anchor="end" fill="#222222" stroke="#222222" stroke-width="0.18" transform="rotate(-45 449.92 563.76)">−0.4</text>
<line x1="461.59" y1="551.46" x2="461.59" y2="555.66" stroke="#4A4A4A" stroke-width="0.9"/>
<text x="464.09" y="563.76" font-size="9.2" text-anchor="end" fill="#222222" stroke="#222222" stroke-width="0.18" transform="rotate(-45 464.09 563.76)">−0.3</text>
<line x1="475.76" y1="551.46" x2="475.76" y2="555.66" stroke="#4A4A4A" stroke-width="0.9"/>
<text x="478.26" y="563.76" font-size="9.2" text-anchor="end" fill="#222222" stroke="#222222" stroke-width="0.18" transform="rotate(-45 478.26 563.76)">−0.2</text>
<line x1="489.93" y1="551.46" x2="489.93" y2="555.66" stroke="#4A4A4A" stroke-width="0.9"/>
<text x="492.43" y="563.76" font-size="9.2" text-anchor="end" fill="#222222" stroke="#222222" stroke-width="0.18" transform="rotate(-45 492.43 563.76)">−0.1</text>
<line x1="504.10" y1="551.46" x2="504.10" y2="555.66" stroke="#4A4A4A" stroke-width="0.9"/>
<text x="506.60" y="563.76" font-size="9.2" text-anchor="end" fill="#222222" stroke="#222222" stroke-width="0.18" transform="rotate(-45 506.60 563.76)">0</text>
<line x1="518.27" y1="551.46" x2="518.27" y2="555.66" stroke="#4A4A4A" stroke-width="0.9"/>
<text x="520.77" y="563.76" font-size="9.2" text-anchor="end" fill="#222222" stroke="#222222" stroke-width="0.18" transform="rotate(-45 520.77 563.76)">0.1</text>
<line x1="532.44" y1="551.46" x2="532.44" y2="555.66" stroke="#4A4A4A" stroke-width="0.9"/>
<text x="534.94" y="563.76" font-size="9.2" text-anchor="end" fill="#222222" stroke="#222222" stroke-width="0.18" transform="rotate(-45 534.94 563.76)">0.2</text>
<line x1="555.80" y1="551.46" x2="555.80" y2="555.66" stroke="#4A4A4A" stroke-width="0.9"/>
<text x="558.30" y="563.76" font-size="9.2" text-anchor="end" fill="#222222" stroke="#222222" stroke-width="0.18" transform="rotate(-45 558.30 563.76)">−0.6</text>
<line x1="576.00" y1="551.46" x2="576.00" y2="555.66" stroke="#4A4A4A" stroke-width="0.9"/>
<text x="578.50" y="563.76" font-size="9.2" text-anchor="end" fill="#222222" stroke="#222222" stroke-width="0.18" transform="rotate(-45 578.50 563.76)">−0.4</text>
<line x1="596.20" y1="551.46" x2="596.20" y2="555.66" stroke="#4A4A4A" stroke-width="0.9"/>
<text x="598.70" y="563.76" font-size="9.2" text-anchor="end" fill="#222222" stroke="#222222" stroke-width="0.18" transform="rotate(-45 598.70 563.76)">−0.2</text>
<line x1="616.40" y1="551.46" x2="616.40" y2="555.66" stroke="#4A4A4A" stroke-width="0.9"/>
<text x="618.90" y="563.76" font-size="9.2" text-anchor="end" fill="#222222" stroke="#222222" stroke-width="0.18" transform="rotate(-45 618.90 563.76)">0</text>
<line x1="636.60" y1="551.46" x2="636.60" y2="555.66" stroke="#4A4A4A" stroke-width="0.9"/>
<text x="639.10" y="563.76" font-size="9.2" text-anchor="end" fill="#222222" stroke="#222222" stroke-width="0.18" transform="rotate(-45 639.10 563.76)">0.2</text>
<line x1="656.80" y1="551.46" x2="656.80" y2="555.66" stroke="#4A4A4A" stroke-width="0.9"/>
<text x="659.30" y="563.76" font-size="9.2" text-anchor="end" fill="#222222" stroke="#222222" stroke-width="0.18" transform="rotate(-45 659.30 563.76)">0.4</text>
<text x="370.5" y="595.4" font-size="10.8" text-anchor="middle" fill="#222222" font-weight="normal" textLength="260.4" lengthAdjust="spacingAndGlyphs">Mean deviations of land-use types from region mean</text>
<text x="170.5" y="626" font-size="10.8" text-anchor="start" fill="#222222" font-weight="normal" textLength="36.8" lengthAdjust="spacingAndGlyphs">Region:</text>
<rect x="218.70" y="618.20" width="9.20" height="8.60" fill="#8DA0CB"/>
<text x="234.5" y="626" font-size="10.8" text-anchor="start" fill="#222222" font-weight="normal" textLength="32.4" lengthAdjust="spacingAndGlyphs">Nordic</text>
<rect x="283.10" y="618.20" width="9.20" height="8.60" fill="#66C2A5"/>
<text x="298.9" y="626" font-size="10.8" text-anchor="start" fill="#222222" font-weight="normal" textLength="55.2" lengthAdjust="spacingAndGlyphs">British Isles</text>
<rect x="371.10" y="618.20" width="9.20" height="8.60" fill="#E78AC3"/>
<text x="387.4" y="626" font-size="10.8" text-anchor="start" fill="#222222" font-weight="normal" textLength="36.0" lengthAdjust="spacingAndGlyphs">Eastern</text>
<rect x="439.90" y="618.20" width="9.20" height="8.60" fill="#A6D854"/>
<text x="455.0" y="626" font-size="10.8" text-anchor="start" fill="#222222" font-weight="normal" textLength="36.2" lengthAdjust="spacingAndGlyphs">Central</text>
<rect x="508.00" y="618.20" width="9.20" height="8.60" fill="#FC8D62"/>
<text x="523.3" y="626" font-size="10.8" text-anchor="start" fill="#222222" font-weight="normal" textLength="45.0" lengthAdjust="spacingAndGlyphs">Southern</text>
</svg>
</body></html>
